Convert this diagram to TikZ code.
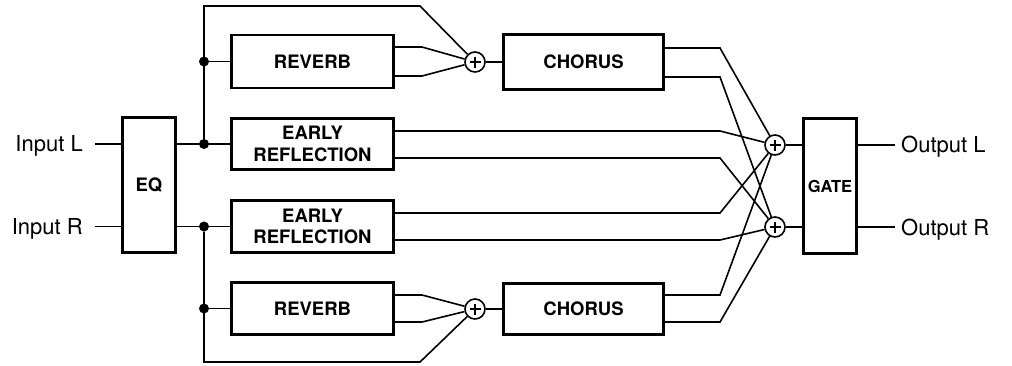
\documentclass[tikz,border=0pt]{standalone}
\usepackage{fontspec}
\setmainfont{TeX Gyre Heros}
\begin{document}
\begin{tikzpicture}[x=1pt,y=-1pt,
  blk/.style={draw, line width=2.8pt, inner sep=0pt, align=center,
    font=\fontsize{18.5}{21.5}\selectfont\bfseries},
  wire/.style={line width=1.6pt},
  sumnode/.style={circle, draw, line width=1.6pt, minimum size=20pt, inner sep=0pt,
    path picture={\draw[line width=1.7pt]
      ([xshift=-5.5pt]path picture bounding box.center) -- ([xshift=5.5pt]path picture bounding box.center)
      ([yshift=-5.5pt]path picture bounding box.center) -- ([yshift=5.5pt]path picture bounding box.center);}},
  jdot/.style={circle, fill, inner sep=0pt, minimum size=10pt},
  lbl/.style={font=\fontsize{22}{25}\selectfont, inner sep=0pt}
]
\useasboundingbox (0,0) rectangle (1012,365);

% labels
\node[lbl, anchor=base east] (inL) at (83,151.5) {Input L};
\node[lbl, anchor=base east] (inR) at (83,234) {Input R};
\node[lbl, anchor=base west] (outL) at (901,152.5) {Output L};
\node[lbl, anchor=base west] (outR) at (901,235) {Output R};
\coordinate (inLc) at (95,144);
\coordinate (inRc) at (95,226.5);
\coordinate (outLc) at (895,145);
\coordinate (outRc) at (895,227);

% blocks
\node[blk, minimum width=53, minimum height=135] (eq) at (149,185) {EQ};
\node[blk, minimum width=162, minimum height=53] (revT) at (312.5,61.5) {REVERB};
\node[blk, minimum width=162, minimum height=51] (erL) at (312.5,144) {EARLY\\REFLECTION};
\node[blk, minimum width=162, minimum height=52] (erR) at (312.5,226.5) {EARLY\\REFLECTION};
\node[blk, minimum width=162, minimum height=52] (revB) at (312.5,308.5) {REVERB};
\node[blk, minimum width=160, minimum height=55] (chT) at (583.5,62) {CHORUS};
\node[blk, minimum width=160, minimum height=51] (chB) at (583.5,309) {CHORUS};
\node[blk, minimum width=53, minimum height=135, font=\fontsize{16.5}{19}\selectfont\bfseries] (gate) at (830,186) {GATE};

% sums
\node[sumnode] (sumT) at (475,62) {};
\node[sumnode] (sumB) at (475,309) {};
\node[sumnode] (sumL) at (775,145) {};
\node[sumnode] (sumR) at (775,227) {};

% junction dots
\node[jdot] (dRT) at (204,61.5) {};
\node[jdot] (dL) at (204,144) {};
\node[jdot] (dR) at (204,226.5) {};
\node[jdot] (dRB) at (204,308.5) {};
\coordinate (topc) at (420,6);
\coordinate (botc) at (420,362);

% inputs
\draw[wire] (inLc) -- (eq.west |- inLc);
\draw[wire] (inRc) -- (eq.west |- inRc);
\draw[wire] (eq.east |- dL) -- (dL) -- (erL.west);
\draw[wire] (eq.east |- dR) -- (dR) -- (erR.west);
\draw[wire] (dL) |- (topc) -- (sumT);
\draw[wire] (dR) |- (botc) -- (sumB);
\draw[wire] (dRT) -- (revT.west);
\draw[wire] (dRB) -- (revB.west);

% reverb to sums
\draw[wire] (revT.east |- 0,47) -- (422,47) -- (sumT);
\draw[wire] (revT.east |- 0,76) -- (422,76) -- (sumT);
\draw[wire] (revB.east |- 0,295) -- (422,295) -- (sumB);
\draw[wire] (revB.east |- 0,322) -- (422,322) -- (sumB);
\draw[wire] (sumT) -- (chT.west |- sumT);
\draw[wire] (sumB) -- (chB.west |- sumB);

% to output sums
\draw[wire] (chT.east |- 0,48) -- (720,48) -- (sumL);
\draw[wire] (chT.east |- 0,77) -- (720,77) -- (sumR);
\draw[wire] (erL.east |- 0,131) -- (720,131) -- (sumL);
\draw[wire] (erL.east |- 0,158) -- (720,158) -- (sumR);
\draw[wire] (erR.east |- 0,213) -- (720,213) -- (sumL);
\draw[wire] (erR.east |- 0,240) -- (720,240) -- (sumR);
\draw[wire] (chB.east |- 0,295) -- (720,295) -- (sumL);
\draw[wire] (chB.east |- 0,322) -- (720,322) -- (sumR);

% gate
\draw[wire] (sumL) -- (gate.west |- sumL);
\draw[wire] (sumR) -- (gate.west |- sumR);
\draw[wire] (gate.east |- outLc) -- (outLc);
\draw[wire] (gate.east |- outRc) -- (outRc);
\end{tikzpicture}
\end{document}
